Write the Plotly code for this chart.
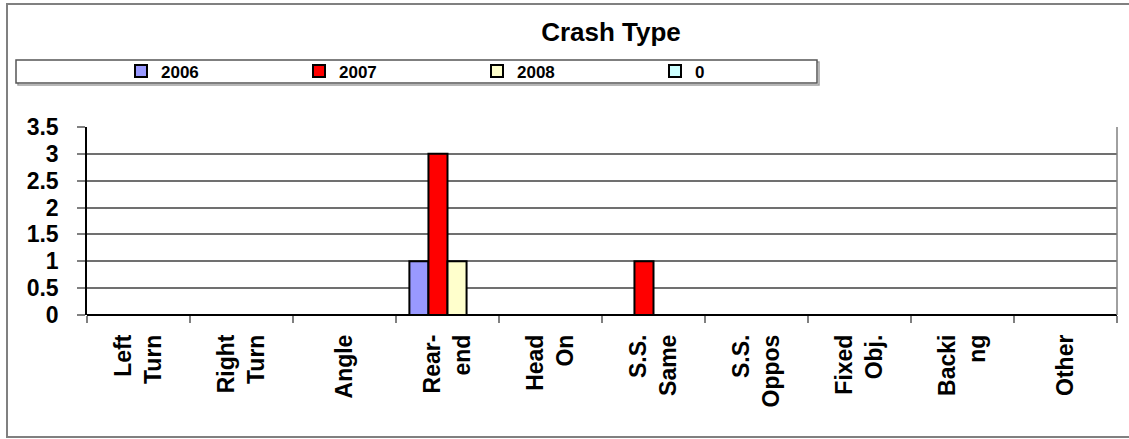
import plotly.graph_objects as go

categories = ["Left<br>Turn", "Right<br>Turn", "Angle", "Rear-<br>end", "Head<br>On",
              "S.S.<br>Same", "S.S.<br>Oppos", "Fixed<br>Obj.", "Backi<br>ng", "Other"]
series_names = ["2006", "2007", "2008", "0"]
values_2006 = [0, 0, 0, 1, 0, 0, 0, 0, 0, 0]
values_2007 = [0, 0, 0, 3, 0, 1, 0, 0, 0, 0]
values_2008 = [0, 0, 0, 1, 0, 0, 0, 0, 0, 0]
values_0 = [0, 0, 0, 0, 0, 0, 0, 0, 0, 0]
y_ticks = [0, 0.5, 1, 1.5, 2, 2.5, 3, 3.5]
colors = ["#9999FF", "#FF0000", "#FFFFCC", "#CCFFFF"]

W, H = 1129, 439
L, R, T, B = 87, 1117, 127, 315  # plot area in pixels
FONT = "Liberation Sans, Arial, sans-serif"

def px_x(x):
    return (x - L) / (R - L)

def px_y(y):
    return (B - y) / (B - T)

fig = go.Figure()
for name, vals, col in zip(series_names, [values_2006, values_2007, values_2008, values_0], colors):
    fig.add_trace(go.Bar(x=categories, y=vals, name=name,
                         marker=dict(color=col, line=dict(color="black", width=2))))

shapes = [
    # outer chart border
    dict(type="rect", xref="paper", yref="paper", x0=px_x(7), x1=px_x(1140), y0=px_y(437), y1=px_y(4),
         line=dict(color="#808080", width=2), fillcolor="rgba(0,0,0,0)", layer="below"),
    # legend shadow
    dict(type="rect", xref="paper", yref="paper", x0=px_x(18), x1=px_x(819), y0=px_y(85), y1=px_y(62),
         line=dict(color="#A0A0A0", width=1.5), fillcolor="rgba(0,0,0,0)", layer="below"),
    # legend box
    dict(type="rect", xref="paper", yref="paper", x0=px_x(16), x1=px_x(817), y0=px_y(83), y1=px_y(60),
         line=dict(color="#555555", width=1.5), fillcolor="white", layer="below"),
    # plot area right border
    dict(type="line", xref="paper", yref="paper", x0=1, x1=1, y0=0, y1=1,
         line=dict(color="#808080", width=1.5)),
]

fig.update_layout(
    width=W, height=H, autosize=False,
    margin=dict(l=L, r=W - R, t=T, b=H - B, pad=0),
    paper_bgcolor="white", plot_bgcolor="white",
    barmode="group", bargap=0.26, bargroupgap=0,
    title=dict(text="Crash Type", x=611 / W, xref="container", xanchor="center",
               y=1 - 32 / H, yref="container", yanchor="middle",
               font=dict(family=FONT, size=26, color="black", weight="bold")),
    legend=dict(orientation="h", xref="container", yref="container",
                x=121 / W, xanchor="left", y=1 - 71.5 / H, yanchor="middle",
                entrywidth=133, entrywidthmode="pixels",
                bgcolor="rgba(0,0,0,0)", borderwidth=0,
                font=dict(family=FONT, size=17, color="black", weight="bold")),
    shapes=shapes,
    xaxis=dict(type="category", showgrid=False, showline=False,
               ticks="outside", tickson="boundaries", ticklen=7, tickcolor="#808080", tickwidth=1.5,
               tickangle=-90, ticklabelstandoff=14,
               tickfont=dict(family=FONT, size=23, color="black", weight="bold")),
    yaxis=dict(range=[0, 3.5], tickvals=y_ticks, ticktext=[f"{v:g}" for v in y_ticks],
               showgrid=True, gridcolor="#707070", gridwidth=1.5,
               showline=True, linecolor="black", linewidth=1.5,
               zeroline=True, zerolinecolor="black", zerolinewidth=2,
               ticks="outside", ticklen=8, tickcolor="#808080", tickwidth=1.5,
               ticklabelstandoff=14,
               tickfont=dict(family=FONT, size=23, color="black", weight="bold")),
)

fig.write_html("out.html", config={"displayModeBar": False},
               post_script="document.body.style.margin='0';document.body.style.overflow='hidden';")
